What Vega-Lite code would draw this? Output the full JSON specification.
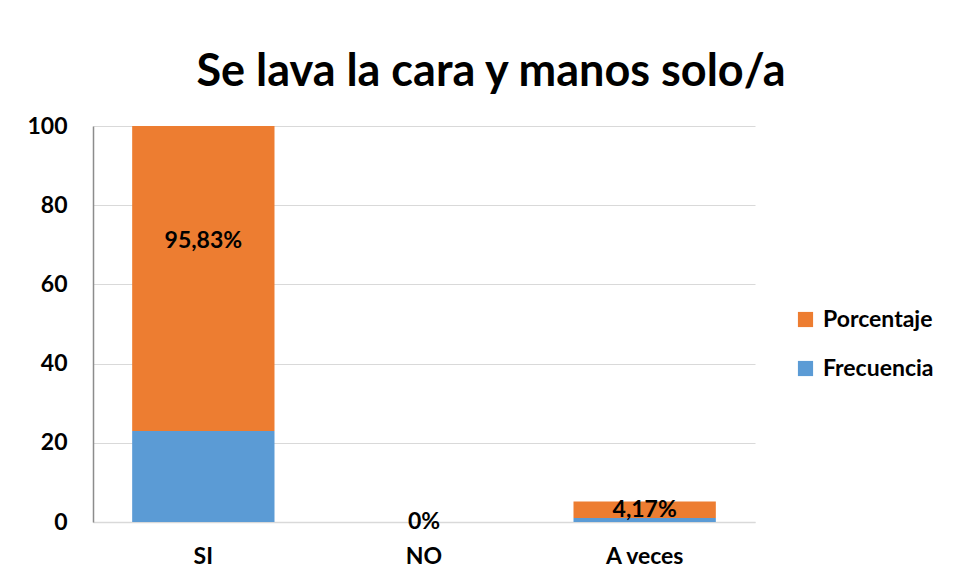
{
  "$schema": "https://vega.github.io/schema/vega-lite/v6.json",
  "width": 662,
  "height": 396,
  "autosize": {"type": "none"},
  "padding": {"left": 93, "top": 126, "right": 201, "bottom": 61},
  "background": "white",
  "title": {
    "text": "Se lava la cara y manos solo/a",
    "font": "Lato",
    "fontSize": 45,
    "fontWeight": "bold",
    "color": "#000000",
    "anchor": "middle",
    "dx": 67,
    "offset": 20
  },
  "config": {
    "font": "Lato",
    "view": {"stroke": null}
  },
  "data": {
    "values": [
      {"categoria": "SI", "serie": "Frecuencia", "valor": 23, "etiqueta": ""},
      {"categoria": "SI", "serie": "Porcentaje", "valor": 95.83, "etiqueta": "95,83%"},
      {"categoria": "NO", "serie": "Frecuencia", "valor": 0, "etiqueta": ""},
      {"categoria": "NO", "serie": "Porcentaje", "valor": 0, "etiqueta": "0%"},
      {"categoria": "A veces", "serie": "Frecuencia", "valor": 1, "etiqueta": ""},
      {"categoria": "A veces", "serie": "Porcentaje", "valor": 4.17, "etiqueta": "4,17%"}
    ]
  },
  "layer": [
    {
      "mark": {"type": "bar", "clip": true},
      "encoding": {
        "x": {
          "field": "categoria",
          "type": "nominal",
          "sort": ["SI", "NO", "A veces"],
          "scale": {"paddingInner": 0.355, "paddingOuter": 0.1775},
          "axis": {
            "title": null,
            "labelAngle": 0,
            "labelFont": "Lato",
            "labelFontSize": 23,
            "labelFontWeight": "bold",
            "labelColor": "#000000",
            "labelPadding": 23,
            "ticks": false,
            "domainColor": "#D9D9D9",
            "domainWidth": 1.5
          }
        },
        "y": {
          "field": "valor",
          "type": "quantitative",
          "stack": "zero",
          "scale": {"domain": [0, 100], "nice": false},
          "axis": {
            "title": null,
            "values": [0, 20, 40, 60, 80, 100],
            "labelFont": "Lato",
            "labelFontSize": 23,
            "labelFontWeight": "bold",
            "labelColor": "#000000",
            "labelPadding": 26,
            "ticks": false,
            "domainColor": "#8C8C8C",
            "domainWidth": 1.5,
            "gridColor": "#D9D9D9",
            "gridWidth": 1.2
          }
        },
        "color": {
          "field": "serie",
          "type": "nominal",
          "scale": {"domain": ["Porcentaje", "Frecuencia"], "range": ["#ED7D31", "#5B9BD5"]},
          "legend": {
            "title": null,
            "orient": "none",
            "legendX": 701,
            "legendY": 182,
            "symbolType": "square",
            "symbolSize": 230,
            "symbolStrokeWidth": 0,
            "labelFont": "Lato",
            "labelFontSize": 23,
            "labelFontWeight": "bold",
            "labelColor": "#000000",
            "rowPadding": 25,
            "labelOffset": 6
          }
        },
        "order": {"field": "serie", "sort": "ascending"}
      }
    },
    {
      "transform": [
        {"stack": "valor", "groupby": ["categoria"], "sort": [{"field": "serie", "order": "ascending"}], "as": ["y0", "y1"]},
        {"calculate": "(datum.y0 + datum.y1) / 2", "as": "medio"},
        {"filter": "datum.serie == 'Porcentaje'"}
      ],
      "mark": {"type": "text", "font": "Lato", "fontSize": 23, "fontWeight": "bold", "color": "#000000", "baseline": "middle"},
      "encoding": {
        "x": {"field": "categoria", "type": "nominal", "sort": ["SI", "NO", "A veces"]},
        "y": {"field": "medio", "type": "quantitative"},
        "text": {"field": "etiqueta"}
      }
    }
  ]
}
